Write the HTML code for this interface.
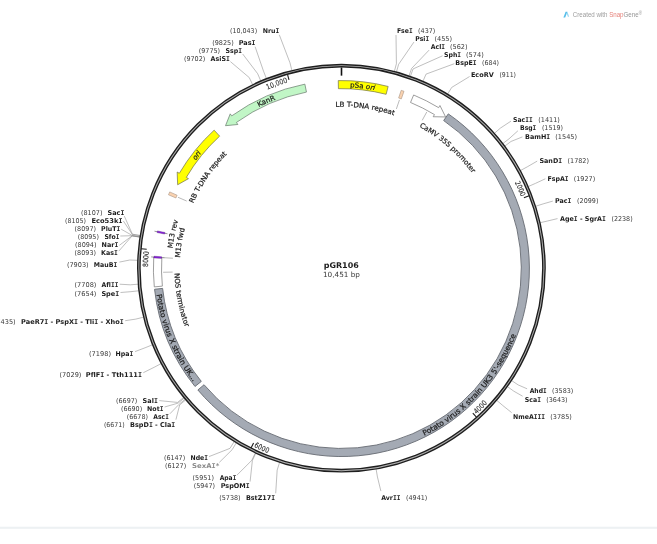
<!DOCTYPE html>
<html lang="en">
<head>
<meta charset="utf-8">
<title>pGR106 plasmid map</title>
<style>
html,body{margin:0;padding:0;background:#fff;}
body{width:657px;height:544px;overflow:hidden;}
svg{display:block;will-change:transform;font-variant-ligatures:none;filter:blur(0.3px);}
</style>
</head>
<body>
<svg width="657" height="544" viewBox="0 0 657 544" font-family="'DejaVu Sans','Liberation Sans',sans-serif">
<rect width="657" height="544" fill="#fff"/>
<rect x="0" y="526.7" width="657" height="2.1" fill="#edf1f3"/>
<g fill="none" stroke="#8a8a8a" stroke-width="0.55" stroke-linejoin="round">
<path d="M394.36 71.35 L396.41 63.72 L396 35"/>
<path d="M396.48 71.93 L398.62 64.33 L413.9 42.1"/>
<path d="M408.99 75.88 L411.61 68.43 L429.1 50.1"/>
<path d="M410.38 76.37 L413.05 68.94 L442.5 55.8"/>
<path d="M422.91 81.35 L426.06 74.11 L454.3 63.7"/>
<path d="M447.58 94.18 L451.69 87.43 L469.6 76.5"/>
<path d="M494.36 133.42 L500.28 128.2 L511 121.1"/>
<path d="M502.78 143.63 L509.04 138.8 L517.9 130.8"/>
<path d="M504.71 146.17 L511.04 141.44 L522.4 136.9"/>
<path d="M520.39 170.59 L527.33 166.81 L537.2 161.1"/>
<path d="M528.22 186.55 L535.45 183.38 L545.3 178.8"/>
<path d="M535.65 206.27 L543.18 203.87 L552.8 201.1"/>
<path d="M540.15 222.7 L547.85 220.93 L557.5 218.6"/>
<path d="M511.58 380.56 L518.18 384.91 L527.1 388.8"/>
<path d="M507.42 386.62 L513.85 391.21 L522.6 396.2"/>
<path d="M496.72 400.35 L502.74 405.47 L511.6 412.6"/>
<path d="M376.11 469.17 L377.45 476.96 L380.9 491.1"/>
<path d="M279.56 462.55 L277.17 470.08 L275.7 493.3"/>
<path d="M255.7 453.27 L252.38 460.43 L250.1 481.6"/>
<path d="M255.26 453.06 L251.92 460.22 L236.9 475.2"/>
<path d="M236.22 442.93 L232.15 449.7 L219.3 462.4"/>
<path d="M234.13 441.65 L229.97 448.37 L209 456.6"/>
<path d="M185.68 399.88 L179.65 404.98 L175.9 419.7"/>
<path d="M185.13 399.22 L179.07 404.3 L169.9 413.8"/>
<path d="M184.19 398.09 L178.09 403.12 L164.6 407"/>
<path d="M183.64 397.43 L177.53 402.43 L159.3 400.6"/>
<path d="M161.16 363.58 L154.18 367.28 L143.3 372.7"/>
<path d="M152.42 344.81 L145.1 347.78 L135 351.6"/>
<path d="M143.46 317.2 L135.79 319.1 L125.2 320.7"/>
<path d="M138.75 290.79 L130.9 291.66 L120.5 292.5"/>
<path d="M138.12 284.2 L130.25 284.82 L119.7 284.2"/>
<path d="M137.65 260.31 L129.76 260.01 L119.4 262.1"/>
<path d="M139.89 237.14 L132.08 235.94 L118.8 251.1"/>
<path d="M139.91 237.02 L132.1 235.81 L119.4 245.3"/>
<path d="M139.92 236.9 L132.12 235.69 L120.3 236"/>
<path d="M139.96 236.66 L132.16 235.43 L121.2 229.2"/>
<path d="M140.12 235.69 L132.32 234.43 L123.4 221"/>
<path d="M140.16 235.45 L132.36 234.18 L124.3 216.1"/>
<path d="M252.66 84.68 L249.22 77.56 L230.4 61.6"/>
<path d="M260.79 80.96 L257.67 73.7 L242.7 54"/>
<path d="M266.46 78.62 L263.56 71.27 L255.1 46.7"/>
<path d="M291.89 70.45 L289.97 62.79 L279.3 34.8"/>
</g>
<g fill="none">
<circle cx="341.4" cy="268.15" r="202.55" stroke="#b4b4b4" stroke-width="1.6"/>
<circle cx="341.4" cy="268.15" r="203.7" stroke="#1e1e1e" stroke-width="1.4"/>
<circle cx="341.4" cy="268.15" r="201.4" stroke="#1e1e1e" stroke-width="1.4"/>
</g>
<path d="M341.5 67.45 L341.5 75.65" stroke="#111" stroke-width="1.6" fill="none"/>
<path d="M529.19 195.76 L523.88 197.81" stroke="#1c1c1c" stroke-width="1.1" fill="none"/>
<path id="p1" d="M514.72 182.57 A193.34 193.34 0 0 1 527.55 216.03" fill="none"/>
<text font-size="7.3" fill="#2a2a2a" stroke="#2a2a2a" stroke-width="0.1" font-family="'DejaVu Sans Condensed','DejaVu Sans',sans-serif"><textPath href="#p1" textLength="15.65" lengthAdjust="spacingAndGlyphs">2000</textPath></text>
<path d="M476.65 417.34 L472.82 413.12" stroke="#1c1c1c" stroke-width="1.1" fill="none"/>
<path id="p2" d="M476.48 414.32 A198.96 198.96 0 0 0 500.85 387.25" fill="none"/>
<text font-size="7.3" fill="#2a2a2a" stroke="#2a2a2a" stroke-width="0.1" font-family="'DejaVu Sans Condensed','DejaVu Sans',sans-serif"><textPath href="#p2" textLength="15.65" lengthAdjust="spacingAndGlyphs">4000</textPath></text>
<path d="M251.02 448.12 L253.58 443.03" stroke="#1c1c1c" stroke-width="1.1" fill="none"/>
<path id="p3" d="M253.77 446.87 A198.96 198.96 0 0 0 287.81 459.86" fill="none"/>
<text font-size="7.3" fill="#2a2a2a" stroke="#2a2a2a" stroke-width="0.1" font-family="'DejaVu Sans Condensed','DejaVu Sans',sans-serif"><textPath href="#p3" textLength="15.65" lengthAdjust="spacingAndGlyphs">6000</textPath></text>
<path d="M141.05 248.71 L146.72 249.26" stroke="#1c1c1c" stroke-width="1.1" fill="none"/>
<path id="p4" d="M148.06 266.99 A193.34 193.34 0 0 1 151.62 231.33" fill="none"/>
<text font-size="7.3" fill="#2a2a2a" stroke="#2a2a2a" stroke-width="0.1" font-family="'DejaVu Sans Condensed','DejaVu Sans',sans-serif"><textPath href="#p4" textLength="15.65" lengthAdjust="spacingAndGlyphs">8000</textPath></text>
<path d="M287.49 74.3 L289.01 79.8" stroke="#1c1c1c" stroke-width="1.1" fill="none"/>
<path id="p5" d="M267.23 89.7 A193.34 193.34 0 0 1 307.5 77.91" fill="none"/>
<text font-size="7.3" fill="#2a2a2a" stroke="#2a2a2a" stroke-width="0.1" font-family="'DejaVu Sans Condensed','DejaVu Sans',sans-serif"><textPath href="#p5" textLength="21.8" lengthAdjust="spacingAndGlyphs">10,000</textPath></text>
<path d="M448.29 113.89 A188 188 0 1 1 197.87 389.97 L204.05 384.74 A179.9 179.9 0 1 0 443.68 120.56 Z" fill="#a4aab4" stroke="#656a72" stroke-width="0.9"/>
<path d="M194.99 386.48 A188 188 0 0 1 154.55 289.28 L162.6 288.38 A179.9 179.9 0 0 0 201.3 381.4 Z" fill="#a4aab4" stroke="#656a72" stroke-width="0.9"/>
<path d="M154.3 286.9 A188 188 0 0 1 153.73 257.4 L161.82 257.88 A179.9 179.9 0 0 0 162.36 286.11 Z" fill="#fff" stroke="#7d7d7d" stroke-width="0.75"/>
<path d="M413.65 94.99 A188 188 0 0 1 438.65 107.66 L439.94 105.52 L445.59 116.95 L433.17 116.73 L434.46 114.59 A179.9 179.9 0 0 0 410.53 102.46 Z" fill="#fff" stroke="#7d7d7d" stroke-width="0.75" stroke-linejoin="miter"/>
<path d="M338.28 80.58 A188 188 0 0 1 388.15 86.46 L386.14 94.3 A179.9 179.9 0 0 0 338.42 88.67 Z" fill="#ffff00" stroke="#6e6e50" stroke-width="0.7"/>
<path d="M304.88 84.13 A188 188 0 0 0 231.69 115.88 L230.24 113.85 L225.51 125.7 L237.88 124.49 L236.42 122.46 A179.9 179.9 0 0 1 306.46 92.08 Z" fill="#c1f6c6" stroke="#66786a" stroke-width="0.7"/>
<path d="M214.15 130.16 A188 188 0 0 0 179.33 173.27 L177.18 172.01 L177.65 184.75 L188.47 178.65 L186.31 177.38 A179.9 179.9 0 0 1 219.63 136.13 Z" fill="#ffff00" stroke="#6e6e50" stroke-width="0.7"/>
<path d="M401.21 90.32 A188 188 0 0 1 404 91.28 L401.3 98.92 A179.9 179.9 0 0 0 398.63 98 Z" fill="#f9d2b0" stroke="#a89484" stroke-width="0.6"/>
<path d="M168.47 194.79 A188 188 0 0 1 169.72 191.93 L177.12 195.23 A179.9 179.9 0 0 0 175.92 197.97 Z" fill="#f9d2b0" stroke="#a89484" stroke-width="0.6"/>
<path d="M167.54 233.81 L154.49 231.2" stroke="#333" stroke-width="0.5"/>
<path d="M157.08 232.59 A187.8 187.8 0 0 1 157.41 230.92 L164.95 232.46 A180.1 180.1 0 0 0 164.63 234.06 Z" fill="#8a22dd" stroke="#4a1580" stroke-width="0.35"/>
<path d="M164.43 257.73 L151.16 256.91" stroke="#333" stroke-width="0.5"/>
<path d="M153.9 257.94 A187.8 187.8 0 0 1 154 256.23 L161.69 256.74 A180.1 180.1 0 0 0 161.59 258.37 Z" fill="#8a22dd" stroke="#4a1580" stroke-width="0.35"/>
<path d="M426.75 112.01 L422.2 120.35" stroke="#8c8c8c" stroke-width="0.6"/>
<path d="M399.45 99.96 L396.36 108.95" stroke="#8c8c8c" stroke-width="0.6"/>
<path d="M177.98 197.25 L186.68 201.05" stroke="#8c8c8c" stroke-width="0.6"/>
<path d="M163.43 257.67 L172.91 258.25" stroke="#8c8c8c" stroke-width="0.6"/>
<path d="M163.14 272.28 L172.64 272.09" stroke="#8c8c8c" stroke-width="0.6"/>
<path id="p6" d="M424.24 435.75 A186.59 186.59 0 0 0 521.76 316.4" fill="none"/>
<text font-size="7.3" fill="#1e1e1e" stroke="#1e1e1e" stroke-width="0.22" ><textPath href="#p6" textLength="139.34" lengthAdjust="spacingAndGlyphs">Potato virus X strain UK3 5'-sequence</textPath></text>
<path id="p7" d="M156.62 294.53 A186.59 186.59 0 0 0 205.82 396.75" fill="none"/>
<text font-size="7.3" fill="#1e1e1e" stroke="#1e1e1e" stroke-width="0.22" ><textPath href="#p7" textLength="95.72" lengthAdjust="spacingAndGlyphs">Potato virus X strain UK...</textPath></text>
<path id="p8" d="M349.96 87.35 A181.41 181.41 0 0 1 393.21 94.7" fill="none"/>
<text font-size="7" fill="#1e1e1e" stroke="#1e1e1e" stroke-width="0.22" ><textPath href="#p8" textLength="24.98" lengthAdjust="spacingAndGlyphs">pSa <tspan font-style="italic">ori</tspan></textPath></text>
<path id="p9" d="M258.77 107.06 A181.41 181.41 0 0 1 293.53 93.58" fill="none"/>
<text font-size="7" fill="#1e1e1e" stroke="#1e1e1e" stroke-width="0.22" ><textPath href="#p9" textLength="18.35" lengthAdjust="spacingAndGlyphs">KanR</textPath></text>
<path id="p10" d="M195.68 160.51 A181.41 181.41 0 0 1 214.13 139.28" fill="none"/>
<text font-size="7" fill="#1e1e1e" stroke="#1e1e1e" stroke-width="0.22" ><textPath href="#p10" textLength="9.16" lengthAdjust="spacingAndGlyphs"><tspan font-style="italic">ori</tspan></textPath></text>
<path id="p11" d="M419.33 126.8 A161.76 161.76 0 0 1 481.4 187.53" fill="none"/>
<text font-size="7" fill="#1e1e1e" stroke="#1e1e1e" stroke-width="0.22" ><textPath href="#p11" textLength="70.98" lengthAdjust="spacingAndGlyphs">CaMV 35S promoter</textPath></text>
<path id="p12" d="M335.56 106.9 A161.76 161.76 0 0 1 409.5 121.83" fill="none"/>
<text font-size="7" fill="#1e1e1e" stroke="#1e1e1e" stroke-width="0.22" ><textPath href="#p12" textLength="59.2" lengthAdjust="spacingAndGlyphs">LB T-DNA repeat</textPath></text>
<path id="p13" d="M193.29 203.53 A161.76 161.76 0 0 1 239.63 142.82" fill="none"/>
<text font-size="7" fill="#1e1e1e" stroke="#1e1e1e" stroke-width="0.22" ><textPath href="#p13" textLength="60.16" lengthAdjust="spacingAndGlyphs">RB T-DNA repeat</textPath></text>
<path id="p14" d="M180 257.83 A161.76 161.76 0 0 1 189.75 212.27" fill="none"/>
<text font-size="7" fill="#1e1e1e" stroke="#1e1e1e" stroke-width="0.22" ><textPath href="#p14" textLength="29.82" lengthAdjust="spacingAndGlyphs">M13 fwd</textPath></text>
<path id="p15" d="M172.44 248.43 A170.16 170.16 0 0 1 184.1 203.68" fill="none"/>
<text font-size="7" fill="#1e1e1e" stroke="#1e1e1e" stroke-width="0.22" ><textPath href="#p15" textLength="28.57" lengthAdjust="spacingAndGlyphs">M13 rev</textPath></text>
<path id="p16" d="M174.62 273.21 A166.84 166.84 0 0 0 192.19 343.21" fill="none"/>
<text font-size="7" fill="#1e1e1e" stroke="#1e1e1e" stroke-width="0.22" ><textPath href="#p16" textLength="55.28" lengthAdjust="spacingAndGlyphs">NOS terminator</textPath></text>
<g font-size="6.6">
<text x="396.9" y="32.8" font-weight="bold" fill="#1c1c1c" textLength="15.7" lengthAdjust="spacingAndGlyphs">Fse<tspan font-family="'DejaVu Sans Mono',monospace">I</tspan></text>
<text x="418.1" y="32.8" fill="#3a3a3a" textLength="17.2" lengthAdjust="spacingAndGlyphs">(437)</text>
<text x="415.3" y="40.9" font-weight="bold" fill="#1c1c1c" textLength="13.8" lengthAdjust="spacingAndGlyphs">Psi<tspan font-family="'DejaVu Sans Mono',monospace">I</tspan></text>
<text x="434.4" y="40.9" fill="#3a3a3a" textLength="17.7" lengthAdjust="spacingAndGlyphs">(455)</text>
<text x="430.8" y="49" font-weight="bold" fill="#1c1c1c" textLength="14.3" lengthAdjust="spacingAndGlyphs">Acl<tspan font-family="'DejaVu Sans Mono',monospace">I</tspan></text>
<text x="450" y="49" fill="#3a3a3a" textLength="17.5" lengthAdjust="spacingAndGlyphs">(562)</text>
<text x="444" y="56.9" font-weight="bold" fill="#1c1c1c" textLength="17.1" lengthAdjust="spacingAndGlyphs">Sph<tspan font-family="'DejaVu Sans Mono',monospace">I</tspan></text>
<text x="466" y="56.9" fill="#3a3a3a" textLength="17.7" lengthAdjust="spacingAndGlyphs">(574)</text>
<text x="455.3" y="65.2" font-weight="bold" fill="#1c1c1c" textLength="21.3" lengthAdjust="spacingAndGlyphs">BspE<tspan font-family="'DejaVu Sans Mono',monospace">I</tspan></text>
<text x="482" y="65.2" fill="#3a3a3a" textLength="17" lengthAdjust="spacingAndGlyphs">(684)</text>
<text x="470.9" y="77.1" font-weight="bold" fill="#1c1c1c" textLength="22.8" lengthAdjust="spacingAndGlyphs">EcoRV</text>
<text x="499.4" y="77.1" fill="#3a3a3a" textLength="16.6" lengthAdjust="spacingAndGlyphs">(911)</text>
<text x="513" y="121.7" font-weight="bold" fill="#1c1c1c" textLength="19.6" lengthAdjust="spacingAndGlyphs">Sac<tspan font-family="'DejaVu Sans Mono',monospace">I</tspan><tspan font-family="'DejaVu Sans Mono',monospace">I</tspan></text>
<text x="538.2" y="121.7" fill="#3a3a3a" textLength="21.7" lengthAdjust="spacingAndGlyphs">(1411)</text>
<text x="520" y="130.4" font-weight="bold" fill="#1c1c1c" textLength="16.3" lengthAdjust="spacingAndGlyphs">Bsg<tspan font-family="'DejaVu Sans Mono',monospace">I</tspan></text>
<text x="541.9" y="130.4" fill="#3a3a3a" textLength="21.1" lengthAdjust="spacingAndGlyphs">(1519)</text>
<text x="525" y="138.5" font-weight="bold" fill="#1c1c1c" textLength="25.2" lengthAdjust="spacingAndGlyphs">BamH<tspan font-family="'DejaVu Sans Mono',monospace">I</tspan></text>
<text x="555.3" y="138.5" fill="#3a3a3a" textLength="21.7" lengthAdjust="spacingAndGlyphs">(1545)</text>
<text x="539.4" y="162.5" font-weight="bold" fill="#1c1c1c" textLength="22.8" lengthAdjust="spacingAndGlyphs">SanD<tspan font-family="'DejaVu Sans Mono',monospace">I</tspan></text>
<text x="567.5" y="162.5" fill="#3a3a3a" textLength="21.5" lengthAdjust="spacingAndGlyphs">(1782)</text>
<text x="547.4" y="180.8" font-weight="bold" fill="#1c1c1c" textLength="21.2" lengthAdjust="spacingAndGlyphs">FspA<tspan font-family="'DejaVu Sans Mono',monospace">I</tspan></text>
<text x="573.7" y="180.8" fill="#3a3a3a" textLength="21.5" lengthAdjust="spacingAndGlyphs">(1927)</text>
<text x="554.9" y="202.9" font-weight="bold" fill="#1c1c1c" textLength="16.4" lengthAdjust="spacingAndGlyphs">Pac<tspan font-family="'DejaVu Sans Mono',monospace">I</tspan></text>
<text x="577.1" y="202.9" fill="#3a3a3a" textLength="21.3" lengthAdjust="spacingAndGlyphs">(2099)</text>
<text x="560" y="220.7" font-weight="bold" fill="#1c1c1c" textLength="45.9" lengthAdjust="spacingAndGlyphs">Age<tspan font-family="'DejaVu Sans Mono',monospace">I</tspan> - SgrA<tspan font-family="'DejaVu Sans Mono',monospace">I</tspan></text>
<text x="611.4" y="220.7" fill="#3a3a3a" textLength="21.3" lengthAdjust="spacingAndGlyphs">(2238)</text>
<text x="529.7" y="393.45" font-weight="bold" fill="#1c1c1c" textLength="17" lengthAdjust="spacingAndGlyphs">Ahd<tspan font-family="'DejaVu Sans Mono',monospace">I</tspan></text>
<text x="552" y="393.45" fill="#3a3a3a" textLength="21.3" lengthAdjust="spacingAndGlyphs">(3583)</text>
<text x="524.8" y="401.55" font-weight="bold" fill="#1c1c1c" textLength="16.2" lengthAdjust="spacingAndGlyphs">Sca<tspan font-family="'DejaVu Sans Mono',monospace">I</tspan></text>
<text x="546.3" y="401.55" fill="#3a3a3a" textLength="21.3" lengthAdjust="spacingAndGlyphs">(3643)</text>
<text x="513" y="418.6" font-weight="bold" fill="#1c1c1c" textLength="32" lengthAdjust="spacingAndGlyphs">NmeA<tspan font-family="'DejaVu Sans Mono',monospace">I</tspan><tspan font-family="'DejaVu Sans Mono',monospace">I</tspan><tspan font-family="'DejaVu Sans Mono',monospace">I</tspan></text>
<text x="550.3" y="418.6" fill="#3a3a3a" textLength="21.6" lengthAdjust="spacingAndGlyphs">(3785)</text>
<text x="381.2" y="499.5" font-weight="bold" fill="#1c1c1c" textLength="19.3" lengthAdjust="spacingAndGlyphs">Avr<tspan font-family="'DejaVu Sans Mono',monospace">I</tspan><tspan font-family="'DejaVu Sans Mono',monospace">I</tspan></text>
<text x="406" y="499.5" fill="#3a3a3a" textLength="21.3" lengthAdjust="spacingAndGlyphs">(4941)</text>
<text x="245.9" y="500.1" font-weight="bold" fill="#1c1c1c" textLength="29.2" lengthAdjust="spacingAndGlyphs">BstZ17<tspan font-family="'DejaVu Sans Mono',monospace">I</tspan></text>
<text x="219.3" y="500.1" fill="#3a3a3a" textLength="21.3" lengthAdjust="spacingAndGlyphs">(5738)</text>
<text x="220.7" y="487.9" font-weight="bold" fill="#1c1c1c" textLength="29" lengthAdjust="spacingAndGlyphs">PspOM<tspan font-family="'DejaVu Sans Mono',monospace">I</tspan></text>
<text x="193.7" y="487.9" fill="#3a3a3a" textLength="21.3" lengthAdjust="spacingAndGlyphs">(5947)</text>
<text x="219.7" y="480.1" font-weight="bold" fill="#1c1c1c" textLength="16.6" lengthAdjust="spacingAndGlyphs">Apa<tspan font-family="'DejaVu Sans Mono',monospace">I</tspan></text>
<text x="192.6" y="480.1" fill="#3a3a3a" textLength="21.3" lengthAdjust="spacingAndGlyphs">(5951)</text>
<text x="192" y="468.3" font-weight="bold" fill="#8a8a8a" textLength="27.3" lengthAdjust="spacingAndGlyphs">SexA<tspan font-family="'DejaVu Sans Mono',monospace">I</tspan>*</text>
<text x="164.9" y="468.3" fill="#3a3a3a" textLength="21.3" lengthAdjust="spacingAndGlyphs">(6127)</text>
<text x="190.5" y="459.8" font-weight="bold" fill="#1c1c1c" textLength="17.5" lengthAdjust="spacingAndGlyphs">Nde<tspan font-family="'DejaVu Sans Mono',monospace">I</tspan></text>
<text x="163.9" y="459.8" fill="#3a3a3a" textLength="21.3" lengthAdjust="spacingAndGlyphs">(6147)</text>
<text x="130.1" y="427" font-weight="bold" fill="#1c1c1c" textLength="45.1" lengthAdjust="spacingAndGlyphs">BspD<tspan font-family="'DejaVu Sans Mono',monospace">I</tspan> - Cla<tspan font-family="'DejaVu Sans Mono',monospace">I</tspan></text>
<text x="103.9" y="427" fill="#3a3a3a" textLength="20.8" lengthAdjust="spacingAndGlyphs">(6671)</text>
<text x="153.3" y="419.1" font-weight="bold" fill="#1c1c1c" textLength="15.5" lengthAdjust="spacingAndGlyphs">Asc<tspan font-family="'DejaVu Sans Mono',monospace">I</tspan></text>
<text x="126.7" y="419.1" fill="#3a3a3a" textLength="21.3" lengthAdjust="spacingAndGlyphs">(6678)</text>
<text x="147.1" y="411.2" font-weight="bold" fill="#1c1c1c" textLength="16.4" lengthAdjust="spacingAndGlyphs">Not<tspan font-family="'DejaVu Sans Mono',monospace">I</tspan></text>
<text x="120.9" y="411.2" fill="#3a3a3a" textLength="21.3" lengthAdjust="spacingAndGlyphs">(6690)</text>
<text x="142.6" y="403.1" font-weight="bold" fill="#1c1c1c" textLength="15.2" lengthAdjust="spacingAndGlyphs">Sal<tspan font-family="'DejaVu Sans Mono',monospace">I</tspan></text>
<text x="116" y="403.1" fill="#3a3a3a" textLength="21.3" lengthAdjust="spacingAndGlyphs">(6697)</text>
<text x="85.8" y="376.8" font-weight="bold" fill="#1c1c1c" textLength="56.1" lengthAdjust="spacingAndGlyphs">PflF<tspan font-family="'DejaVu Sans Mono',monospace">I</tspan> - Tth111<tspan font-family="'DejaVu Sans Mono',monospace">I</tspan></text>
<text x="59.5" y="376.8" fill="#3a3a3a" textLength="21.9" lengthAdjust="spacingAndGlyphs">(7029)</text>
<text x="115.6" y="355.5" font-weight="bold" fill="#1c1c1c" textLength="17.8" lengthAdjust="spacingAndGlyphs">Hpa<tspan font-family="'DejaVu Sans Mono',monospace">I</tspan></text>
<text x="89" y="355.5" fill="#3a3a3a" textLength="22" lengthAdjust="spacingAndGlyphs">(7198)</text>
<text x="21.1" y="324.2" font-weight="bold" fill="#1c1c1c" textLength="102.7" lengthAdjust="spacingAndGlyphs">PaeR7<tspan font-family="'DejaVu Sans Mono',monospace">I</tspan> - PspX<tspan font-family="'DejaVu Sans Mono',monospace">I</tspan> - Tli<tspan font-family="'DejaVu Sans Mono',monospace">I</tspan> - Xho<tspan font-family="'DejaVu Sans Mono',monospace">I</tspan></text>
<text x="-6.1" y="324.2" fill="#3a3a3a" textLength="21.7" lengthAdjust="spacingAndGlyphs">(7435)</text>
<text x="101.4" y="295.5" font-weight="bold" fill="#1c1c1c" textLength="17.8" lengthAdjust="spacingAndGlyphs">Spe<tspan font-family="'DejaVu Sans Mono',monospace">I</tspan></text>
<text x="74.5" y="295.5" fill="#3a3a3a" textLength="21.9" lengthAdjust="spacingAndGlyphs">(7654)</text>
<text x="101.4" y="287" font-weight="bold" fill="#1c1c1c" textLength="17" lengthAdjust="spacingAndGlyphs">Afl<tspan font-family="'DejaVu Sans Mono',monospace">I</tspan><tspan font-family="'DejaVu Sans Mono',monospace">I</tspan></text>
<text x="74.5" y="287" fill="#3a3a3a" textLength="21.9" lengthAdjust="spacingAndGlyphs">(7708)</text>
<text x="93.8" y="266.7" font-weight="bold" fill="#1c1c1c" textLength="23.4" lengthAdjust="spacingAndGlyphs">MauB<tspan font-family="'DejaVu Sans Mono',monospace">I</tspan></text>
<text x="66.9" y="266.7" fill="#3a3a3a" textLength="21.8" lengthAdjust="spacingAndGlyphs">(7903)</text>
<text x="101.1" y="254.8" font-weight="bold" fill="#1c1c1c" textLength="16.8" lengthAdjust="spacingAndGlyphs">Kas<tspan font-family="'DejaVu Sans Mono',monospace">I</tspan></text>
<text x="74.6" y="254.8" fill="#3a3a3a" textLength="21.4" lengthAdjust="spacingAndGlyphs">(8093)</text>
<text x="101.6" y="246.6" font-weight="bold" fill="#1c1c1c" textLength="16.8" lengthAdjust="spacingAndGlyphs">Nar<tspan font-family="'DejaVu Sans Mono',monospace">I</tspan></text>
<text x="75" y="246.6" fill="#3a3a3a" textLength="21.5" lengthAdjust="spacingAndGlyphs">(8094)</text>
<text x="104.4" y="238.9" font-weight="bold" fill="#1c1c1c" textLength="15" lengthAdjust="spacingAndGlyphs">Sfo<tspan font-family="'DejaVu Sans Mono',monospace">I</tspan></text>
<text x="77.7" y="238.9" fill="#3a3a3a" textLength="21.2" lengthAdjust="spacingAndGlyphs">(8095)</text>
<text x="101.1" y="231.05" font-weight="bold" fill="#1c1c1c" textLength="19.2" lengthAdjust="spacingAndGlyphs">PluT<tspan font-family="'DejaVu Sans Mono',monospace">I</tspan></text>
<text x="74.6" y="231.05" fill="#3a3a3a" textLength="21.4" lengthAdjust="spacingAndGlyphs">(8097)</text>
<text x="91.4" y="223.2" font-weight="bold" fill="#1c1c1c" textLength="31.1" lengthAdjust="spacingAndGlyphs">Eco53k<tspan font-family="'DejaVu Sans Mono',monospace">I</tspan></text>
<text x="65.1" y="223.2" fill="#3a3a3a" textLength="21" lengthAdjust="spacingAndGlyphs">(8105)</text>
<text x="107.5" y="215" font-weight="bold" fill="#1c1c1c" textLength="16.8" lengthAdjust="spacingAndGlyphs">Sac<tspan font-family="'DejaVu Sans Mono',monospace">I</tspan></text>
<text x="81" y="215" fill="#3a3a3a" textLength="21.4" lengthAdjust="spacingAndGlyphs">(8107)</text>
<text x="210.6" y="61" font-weight="bold" fill="#1c1c1c" textLength="19.2" lengthAdjust="spacingAndGlyphs">AsiS<tspan font-family="'DejaVu Sans Mono',monospace">I</tspan></text>
<text x="183.9" y="61" fill="#3a3a3a" textLength="21.4" lengthAdjust="spacingAndGlyphs">(9702)</text>
<text x="225.5" y="53" font-weight="bold" fill="#1c1c1c" textLength="16.4" lengthAdjust="spacingAndGlyphs">Ssp<tspan font-family="'DejaVu Sans Mono',monospace">I</tspan></text>
<text x="198.7" y="53" fill="#3a3a3a" textLength="21.4" lengthAdjust="spacingAndGlyphs">(9775)</text>
<text x="238.7" y="44.7" font-weight="bold" fill="#1c1c1c" textLength="16.8" lengthAdjust="spacingAndGlyphs">Pas<tspan font-family="'DejaVu Sans Mono',monospace">I</tspan></text>
<text x="212.2" y="44.7" fill="#3a3a3a" textLength="21.6" lengthAdjust="spacingAndGlyphs">(9825)</text>
<text x="262.7" y="32.5" font-weight="bold" fill="#1c1c1c" textLength="16.6" lengthAdjust="spacingAndGlyphs">Nru<tspan font-family="'DejaVu Sans Mono',monospace">I</tspan></text>
<text x="230" y="32.5" fill="#3a3a3a" textLength="27.1" lengthAdjust="spacingAndGlyphs">(10,043)</text>
</g>
<text x="323.7" y="268.0" font-size="7.9" font-weight="bold" fill="#1c1c1c" textLength="35.1" lengthAdjust="spacingAndGlyphs">pGR106</text>
<text x="322.9" y="276.9" font-size="7.1" fill="#3a3a3a" textLength="37.1" lengthAdjust="spacingAndGlyphs">10,451 bp</text>
<g>
<path d="M563.4 17.6 L565.2 17.6 L567.4 11.7 L565.6 11.7 Z" fill="#55bde9"/>
<path d="M566.6 13.6 L567.4 11.7 L569.2 16.7 L567.9 16.7 Z" fill="#9ad9f3"/>
<text x="572.8" y="16.8" font-size="6.8" font-family="'Liberation Sans',sans-serif" fill="#9c9c9c" textLength="69.2" lengthAdjust="spacingAndGlyphs">Created with <tspan fill="#e6837c">Snap</tspan><tspan fill="#949494">Gene</tspan><tspan font-size="5" dy="-1.3">®</tspan></text>
</g>
</svg>
</body>
</html>
